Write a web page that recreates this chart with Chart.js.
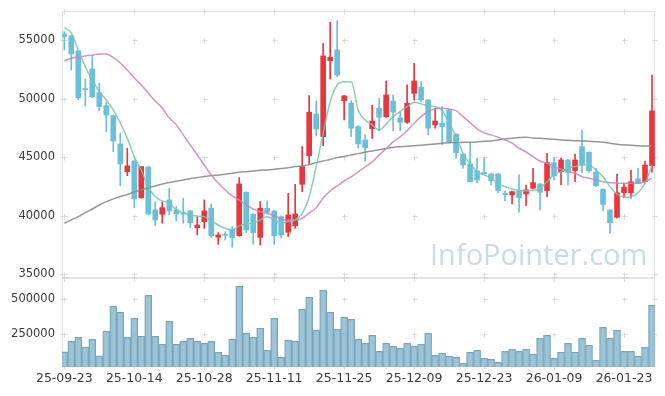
<!DOCTYPE html>
<html>
<head>
<meta charset="utf-8">
<script src="https://cdn.jsdelivr.net/npm/chart.js@4.4.1/dist/chart.umd.min.js"></script>
<style>
  body { margin: 0; background: #fff; }
  #wrap { position: relative; width: 665px; height: 396px; overflow: hidden; }
  #price { position: absolute; left: 0; top: 0; }
  #volume { position: absolute; left: 0; top: 270px; }
  #mark { position: absolute; left: 430px; top: 239px; font: 29px/1 "Open Sans", sans-serif; color: #c8dbe6; white-space: nowrap; }
</style>
</head>
<body>
<div id="wrap">
  <canvas id="price" width="665" height="282"></canvas>
  <canvas id="volume" width="665" height="126"></canvas>
  <div id="mark">InfoPointer.com</div>
</div>
<script>
var dates = [
  "25-09-23","25-09-24","25-09-25","25-09-26","25-09-29","25-09-30","25-10-01","25-10-02","25-10-10","25-10-13",
  "25-10-14","25-10-15","25-10-16","25-10-17","25-10-20","25-10-21","25-10-22","25-10-23","25-10-24","25-10-27",
  "25-10-28","25-10-29","25-10-30","25-10-31","25-11-03","25-11-04","25-11-05","25-11-06","25-11-07","25-11-10",
  "25-11-11","25-11-12","25-11-13","25-11-14","25-11-17","25-11-18","25-11-19","25-11-20","25-11-21","25-11-24",
  "25-11-25","25-11-26","25-11-27","25-11-28","25-12-01","25-12-02","25-12-03","25-12-04","25-12-05","25-12-08",
  "25-12-09","25-12-10","25-12-11","25-12-12","25-12-15","25-12-16","25-12-17","25-12-18","25-12-19","25-12-22",
  "25-12-23","25-12-24","25-12-26","25-12-29","25-12-30","26-01-02","26-01-05","26-01-06","26-01-07","26-01-08",
  "26-01-09","26-01-12","26-01-13","26-01-14","26-01-15","26-01-16","26-01-19","26-01-20","26-01-21","26-01-22",
  "26-01-23","26-01-26","26-01-27","26-01-28","26-01-29"
];
var tickIdx = [0, 10, 20, 30, 40, 50, 60, 70, 80];

var opens = [
  55540,55370,54090,50860,52550,50520,49410,48560,46140,43770,
  44680,41550,44170,40500,40130,41350,40500,40270,40410,38980,
  39500,40640,38160,38370,38850,38300,42010,40130,38160,40640,
  40410,39920,38590,39150,42690,45140,48700,46760,53260,54170,
  49840,49620,47620,46480,47450,49190,48470,49810,48360,47990,
  50470,50980,49900,47760,47910,49040,46970,45280,44430,43830,
  43700,43570,43570,41900,41780,42150,41860,42350,42720,42150,
  44540,43770,44770,43860,45910,45430,43720,42270,40500,39870,
  41970,41970,43150,42910,44280
];
var highs = [
  55740,55400,54170,51690,53600,51330,49700,48600,47050,45770,
  44700,44200,44200,41210,41210,42350,40780,41500,40450,39920,
  41350,41010,38560,38640,39070,43260,42050,40200,41210,41270,
  40450,40000,41920,42690,45910,50270,49810,54740,56540,56680,
  50300,49840,47700,46910,49440,50040,51520,50330,48900,51180,
  53030,51460,49950,49190,49330,49100,47000,45300,46250,44920,
  44920,43600,43600,42120,42100,43490,42630,44060,42750,45340,
  44920,44920,44800,45280,47330,45450,44060,42300,40500,43570,
  42780,43910,44060,44680,52030
];
var lows = [
  54170,52460,49900,49410,50090,48960,47190,45480,42570,43430,
  40690,41500,40100,39150,39360,40070,39560,39360,38980,38360,
  38930,38160,37560,37930,37310,38250,38560,37560,37500,40150,
  37560,38080,38210,38930,42060,44430,46820,45990,51670,51890,
  48190,46760,45770,44680,46620,47270,48400,47270,47270,47900,
  49900,49750,46910,47480,46050,46250,44920,44060,42890,42830,
  43550,42630,41970,41270,41010,40300,40860,42300,40500,41630,
  43060,42630,42630,42910,43680,43700,42500,40440,38500,39800,
  41580,41500,42750,42780,43720
];
var closes = [
  55310,53830,50090,50780,50180,49330,48620,46390,44430,44260,
  41440,44200,40150,39640,40690,40410,40150,40130,39410,39210,
  40410,38300,38360,38330,38130,42720,38790,38560,40640,40300,
  38300,38360,40070,40150,44200,48850,47420,53660,53550,52030,
  50240,47480,46140,45820,48100,48420,50330,48850,47990,49620,
  51520,49900,47480,48100,47620,46330,45390,44340,42910,43060,
  43600,43000,42150,41800,42060,41550,42210,42830,42010,44540,
  43430,44770,43720,44770,44340,43830,42570,40980,39410,41970,
  42440,42910,42780,44340,48960
];

// moving averages
var ma5 = [
  56090,55620,54170,52740,51610,50610,49900,49040,47930,46650,
  45030,43910,42490,41630,41270,41070,40500,40270,40070,39980,
  39920,39580,39210,38930,38790,39130,39300,39360,39640,39920,
  39700,39360,39500,39640,40210,41630,44200,47050,49750,51180,
  51460,51460,49040,48190,47760,47330,47850,48470,48900,49320,
  49700,49560,49380,49320,49040,47910,46760,45340,44430,43770,
  43490,43210,42720,42490,42290,42150,42120,42150,42350,42910,
  43490,43770,44060,44200,44340,44340,43910,43340,42490,41860,
  41580,41630,41970,42780,44340
];
var ma20 = [
  53230,53460,53570,53660,53720,53830,53830,53510,53060,52460,
  51780,51180,50500,49810,49210,48360,47790,46910,46050,45200,
  44340,43490,42800,42210,41690,41350,40920,40580,40350,40210,
  39980,39730,39640,39640,39790,40240,40690,41520,42120,42550,
  42970,43320,43740,44170,44600,45200,45740,46310,46740,47270,
  47910,48470,48900,49130,49190,49130,48980,48470,47960,47420,
  47080,46910,46710,46480,46200,45770,45450,45050,44680,44490,
  44200,43970,43770,43630,43340,43210,43060,42910,42830,42780,
  42780,42780,42780,42910,43210
];
var ma120 = [
  39360,39640,39920,40260,40580,40920,41210,41440,41650,41820,
  42030,42210,42400,42550,42720,42850,42950,43060,43170,43260,
  43360,43430,43490,43550,43630,43720,43770,43830,43890,43910,
  43970,44040,44110,44200,44260,44370,44540,44680,44810,44970,
  45070,45200,45310,45430,45540,45650,45750,45840,45900,45950,
  45990,46030,46080,46140,46200,46250,46260,46280,46280,46310,
  46370,46390,46480,46560,46620,46680,46710,46650,46620,46590,
  46540,46480,46450,46420,46390,46370,46330,46280,46200,46110,
  46050,46030,45990,45970,45970
];

var volumes = [
  123800,200000,228600,159500,214300,95200,271400,450000,407100,228600,
  364300,235700,528600,235700,178600,342900,178600,200000,221400,200000,
  185700,200000,121400,100000,214300,592900,257100,228600,292900,135700,
  364300,85700,207100,200000,428600,514300,278600,564300,407100,285700,
  371400,357100,214300,185700,242900,128600,185700,164300,150000,185700,
  164300,178600,257100,100000,114300,92900,85700,42900,121400,135700,
  78600,71400,50000,128600,142900,128600,142900,107100,221400,242900,
  78600,121400,185700,121400,221400,171400,64300,300000,221400,278600,
  128600,128600,92900,157100,457100
];

var priceTicks = [35000, 40000, 45000, 50000, 55000];
var volumeTicks = [250000, 500000];

var RED = '#e8373c';
var BLUE = '#6ac0da';
var tickFont = { family: 'DejaVu Sans', size: 11.5 };
var textColor = '#3c3c3c';

function candleColor(ctx) {
  var i = ctx.dataIndex;
  return closes[i] >= opens[i] ? RED : BLUE;
}

// no extra room for half tick labels, the plot areas are fixed
function noPad(s) {
  s.paddingTop = 0; s.paddingBottom = 0; s.paddingLeft = 0; s.paddingRight = 0;
}

var gridMarks = {
  id: 'gridMarks',
  beforeDatasetsDraw: function (chart, args, opts) {
    var ctx = chart.ctx, a = chart.chartArea, x = chart.scales.x, y = chart.scales.y;
    ctx.save();
    ctx.strokeStyle = '#e4e4e4';
    ctx.lineWidth = 1;
    ctx.strokeRect(a.left + 0.5, a.top + 0.5, a.right - a.left - 1, a.bottom - a.top - 1);
    var xs = tickIdx.map(function (v) { return Math.round(x.getPixelForValue(v)) + 0.5; });
    var ys = opts.ticks.map(function (v) { return Math.round(y.getPixelForValue(v)) + 0.5; });
    ctx.strokeStyle = '#d9d9d9';
    ctx.beginPath();
    function cross(px, py) {
      ctx.moveTo(px - 2, py); ctx.lineTo(px + 3, py);
      ctx.moveTo(px, py - 2); ctx.lineTo(px, py + 3);
    }
    xs.forEach(function (px) {
      ys.concat([a.top + 0.5, a.bottom - 0.5]).forEach(function (py) { cross(px, py); });
    });
    ys.forEach(function (py) {
      cross(a.left + 0.5, py);
      cross(a.right - 0.5, py);
    });
    ctx.stroke();
    ctx.restore();
  }
};

function xy(arr) {
  return arr.map(function (v, i) { return { x: i, y: v }; });
}

new Chart(document.getElementById('price'), {
  type: 'bar',
  data: {
    datasets: [
      { type: 'line', data: xy(ma5), borderColor: 'rgba(118,196,178,0.85)', borderWidth: 1.5, pointRadius: 0, cubicInterpolationMode: 'monotone', order: 1 },
      { type: 'line', data: xy(ma20), borderColor: 'rgba(196,130,190,0.85)', borderWidth: 1.5, pointRadius: 0, cubicInterpolationMode: 'monotone', order: 1 },
      { type: 'line', data: xy(ma120), borderColor: 'rgba(140,140,140,0.9)', borderWidth: 1.5, pointRadius: 0, cubicInterpolationMode: 'monotone', order: 1 },
      { type: 'bar', data: lows.map(function (l, i) { return { x: i, y: [l, highs[i]] }; }),
        backgroundColor: candleColor, barThickness: 1, grouped: false, order: 3 },
      { type: 'bar', data: opens.map(function (o, i) { return { x: i, y: [o, closes[i]] }; }),
        backgroundColor: candleColor, barThickness: 5, minBarLength: 1, grouped: false, order: 2 }
    ]
  },
  options: {
    responsive: false,
    animation: false,
    devicePixelRatio: 1,
    layout: { padding: { top: 11, right: 10, bottom: 4, left: 0 } },
    plugins: { legend: { display: false }, tooltip: { enabled: false }, gridMarks: { ticks: priceTicks } },
    scales: {
      x: { type: 'linear', min: -0.33, max: 84.43, offset: false, display: false, afterFit: noPad },
      y: {
        min: 34680, max: 57500,
        afterFit: function (s) { s.width = 62; noPad(s); },
        afterBuildTicks: function (s) { s.ticks = priceTicks.map(function (v) { return { value: v }; }); },
        grid: { display: false, drawTicks: false },
        border: { display: false },
        ticks: { color: textColor, font: tickFont, padding: 7, callback: function (v) { return String(v); } }
      }
    }
  },
  plugins: [gridMarks]
});

new Chart(document.getElementById('volume'), {
  type: 'bar',
  data: {
    datasets: [
      { data: xy(volumes), backgroundColor: 'rgba(140,184,204,0.85)', borderColor: '#78a6bd', borderWidth: 1, barThickness: 7, grouped: false }
    ]
  },
  options: {
    responsive: false,
    animation: false,
    devicePixelRatio: 1,
    layout: { padding: { top: 8, right: 10, bottom: 0, left: 0 } },
    plugins: { legend: { display: false }, tooltip: { enabled: false }, gridMarks: { ticks: volumeTicks } },
    scales: {
      x: {
        type: 'linear', min: -0.33, max: 84.43, offset: false,
        afterFit: function (s) { s.height = 29; noPad(s); },
        afterBuildTicks: function (s) { s.ticks = tickIdx.map(function (v) { return { value: v }; }); },
        grid: { display: false, drawTicks: false },
        border: { display: false },
        ticks: { color: textColor, font: { family: 'DejaVu Sans', size: 12.5 }, padding: 4, autoSkip: false, maxRotation: 0,
                 callback: function (v) { return dates[v]; } }
      },
      y: {
        min: 16000, max: 652000,
        afterFit: function (s) { s.width = 62; noPad(s); },
        afterBuildTicks: function (s) { s.ticks = volumeTicks.map(function (v) { return { value: v }; }); },
        grid: { display: false, drawTicks: false },
        border: { display: false },
        ticks: { color: textColor, font: tickFont, padding: 7, callback: function (v) { return String(v); } }
      }
    }
  },
  plugins: [gridMarks]
});
</script>
</body>
</html>
